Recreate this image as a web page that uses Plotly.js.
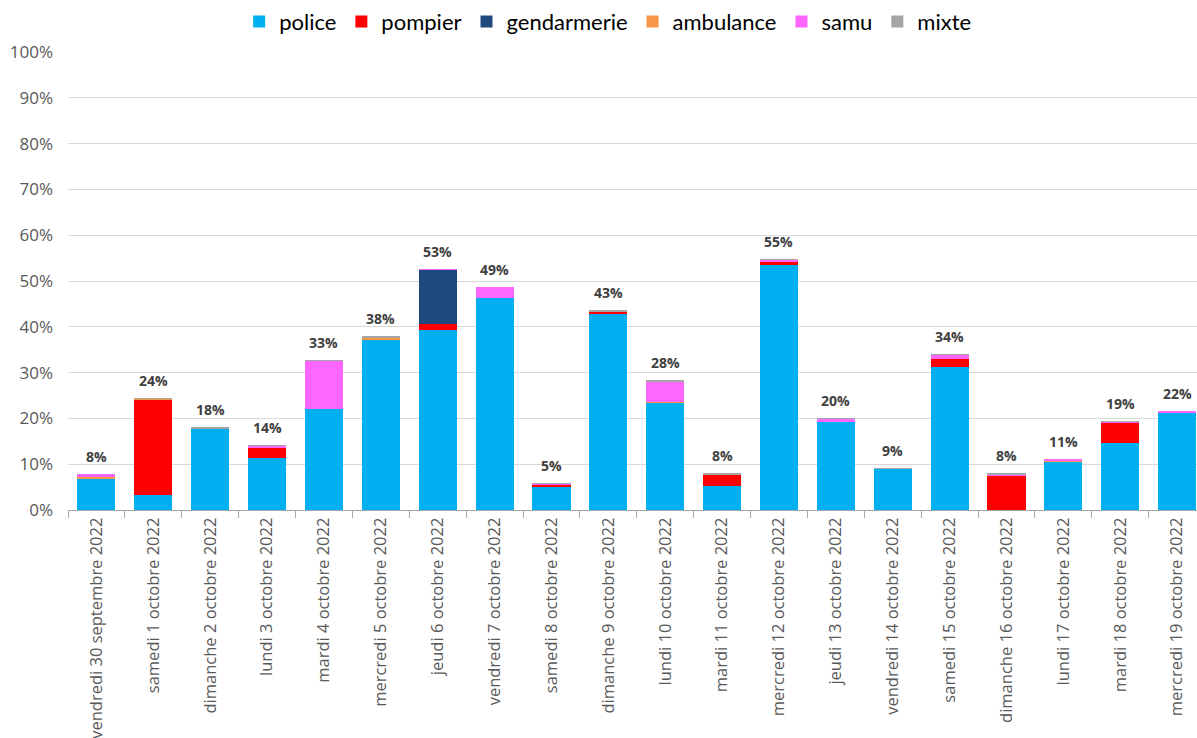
<!DOCTYPE html>
<html>
<head>
<meta charset="utf-8">
<script src="https://cdn.plot.ly/plotly-3.0.1.min.js"></script>
<style>
html,body{margin:0;padding:0;background:#fff;overflow:hidden;}
#chart{width:1197px;height:738px;}
</style>
</head>
<body>
<div id="chart"></div>
<script>
const categories = [
  "vendredi 30 septembre 2022","samedi 1 octobre 2022","dimanche 2 octobre 2022","lundi 3 octobre 2022",
  "mardi 4 octobre 2022","mercredi 5 octobre 2022","jeudi 6 octobre 2022","vendredi 7 octobre 2022",
  "samedi 8 octobre 2022","dimanche 9 octobre 2022","lundi 10 octobre 2022","mardi 11 octobre 2022",
  "mercredi 12 octobre 2022","jeudi 13 octobre 2022","vendredi 14 octobre 2022","samedi 15 octobre 2022",
  "dimanche 16 octobre 2022","lundi 17 octobre 2022","mardi 18 octobre 2022","mercredi 19 octobre 2022"
];
// values in percent
const police      = [6.8, 3.3, 17.7, 11.4, 22.0, 37.2, 39.4, 46.3, 5.1, 42.9, 23.3, 5.3, 53.6, 19.3, 8.9, 31.3, 0.0, 10.5, 14.7, 21.1];
const pompier     = [0.0, 20.7, 0.0, 2.1, 0.0, 0.0, 1.3, 0.0, 0.35, 0.4, 0.0, 2.3, 0.6, 0.0, 0.0, 1.7, 7.4, 0.0, 4.4, 0.0];
const gendarmerie = [0.0, 0.0, 0.0, 0.0, 0.0, 0.0, 11.6, 0.0, 0.0, 0.0, 0.0, 0.0, 0.0, 0.0, 0.0, 0.0, 0.0, 0.0, 0.0, 0.0];
const ambulance   = [0.45, 0.2, 0.0, 0.0, 0.0, 0.4, 0.0, 0.0, 0.0, 0.0, 0.3, 0.0, 0.0, 0.0, 0.0, 0.0, 0.0, 0.3, 0.0, 0.0];
const samu        = [0.6, 0.0, 0.0, 0.5, 10.5, 0.0, 0.3, 2.3, 0.2, 0.0, 4.4, 0.0, 0.4, 0.5, 0.0, 0.8, 0.3, 0.3, 0.2, 0.5];
const mixte       = [0.0, 0.25, 0.4, 0.2, 0.2, 0.3, 0.0, 0.0, 0.15, 0.3, 0.3, 0.4, 0.1, 0.2, 0.3, 0.3, 0.3, 0.0, 0.2, 0.0];
const totalLabels = ["8%","24%","18%","14%","33%","38%","53%","49%","5%","43%","28%","8%","55%","20%","9%","34%","8%","11%","19%","22%"];

const seriesNames  = ["police","pompier","gendarmerie","ambulance","samu","mixte"];
const seriesValues = [police, pompier, gendarmerie, ambulance, samu, mixte];
const seriesColors = ["#00B0F0","#FF0000","#1F497D","#F79646","#FF66FF","#A5A5A5"];

const traces = seriesNames.map((n, i) => ({
  type: "bar",
  name: n,
  x: categories,
  y: seriesValues[i].map(v => v / 100),
  marker: {color: seriesColors[i], line: {width: 0}},
  hoverinfo: "name+y"
}));

const totals = categories.map((c, k) => seriesValues.reduce((s, arr) => s + arr[k], 0) / 100);

const annotations = categories.map((c, k) => ({
  x: c, y: totals[k], xref: "x", yref: "y",
  text: totalLabels[k], showarrow: false, yanchor: "bottom", yshift: 6,
  font: {family: "Open Sans", size: 14, color: "#404040", weight: "bold"}
}));

const layout = {
  width: 1197, height: 738,
  paper_bgcolor: "#ffffff", plot_bgcolor: "#ffffff",
  barmode: "stack", bargap: 0.33,
  margin: {l: 68, r: 0, t: 52, b: 228},
  font: {family: "Open Sans", color: "#595959"},
  showlegend: true,
  legend: {
    orientation: "h", x: 0.478, xanchor: "center", y: 1.066, yanchor: "middle",
    font: {family: "Lato", size: 22, color: "#000000"},
    traceorder: "normal", itemwidth: 30
  },
  xaxis: {
    type: "category", range: [-0.5, 19.35],
    tickangle: -90, tickson: "boundaries", ticks: "outside", ticklen: 7,
    tickcolor: "#A6A6A6", showline: true, linecolor: "#A6A6A6", linewidth: 1,
    showgrid: false, tickfont: {family: "Open Sans", size: 16.5, color: "#595959"},
    fixedrange: true
  },
  yaxis: {
    range: [0, 1.0], dtick: 0.1, tickformat: ".0%",
    showgrid: true, gridcolor: "#D9D9D9", gridwidth: 1,
    zeroline: false, showline: false, ticks: "",
    ticklabelstandoff: 14,
    tickfont: {family: "Open Sans", size: 17, color: "#595959"},
    fixedrange: true
  },
  annotations: annotations
};

Plotly.newPlot("chart", traces, layout, {displayModeBar: false, staticPlot: true});
</script>
</body>
</html>
